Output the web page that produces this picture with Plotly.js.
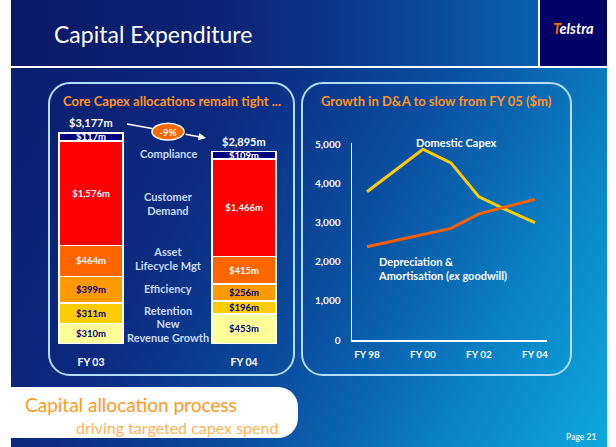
<!DOCTYPE html>
<html><head><meta charset="utf-8">
<script src="https://cdn.plot.ly/plotly-3.0.1.min.js"></script>
<style>
html,body{margin:0;padding:0;background:#fff;}
#wrap{position:relative;width:616px;height:447px;overflow:hidden;background:#fff;}
#hdr{position:absolute;left:11px;top:0;width:527px;height:66px;background:linear-gradient(90deg,#0c1a66 0%,#0c2275 40%,#0b4a9c 80%,#0a60ae 100%);}
#logo{position:absolute;left:540px;top:0;width:67px;height:66px;background:#000066;}
#body{position:absolute;left:11px;top:68px;width:596px;height:379px;background:linear-gradient(118deg,#0b1d6e 0%,#0b2a80 30%,#0a50a2 56%,#0a80c4 78%,#10a8e0 100%);}
.panel{position:absolute;box-sizing:border-box;border:2px solid #b3def7;border-radius:22px;}
#foot{position:absolute;left:11px;top:387px;width:287px;height:51px;background:#fff;border-radius:0 20px 20px 0;}
#plot{position:absolute;left:0;top:0;width:616px;height:447px;}
</style></head>
<body>
<div id="wrap">
  <div id="hdr"></div>
  <div id="logo"></div>
  <div id="body"></div>
  <div class="panel" style="left:48px;top:82px;width:247px;height:294px;"></div>
  <div class="panel" style="left:301px;top:82px;width:271px;height:294px;"></div>
  <div id="foot"></div>
  <div id="plot"></div>
</div>
<script>
// ---- data: capex allocations ($m) ----
const allocYears = ['FY 03', 'FY 04'];
const newRevenueGrowth = [310, 453];
const retention = [311, 196];
const efficiency = [399, 256];
const assetLifecycle = [464, 415];
const customerDemand = [1576, 1466];
const compliance = [117, 109];
const allocNames = ['New Revenue Growth', 'Retention', 'Efficiency', 'Asset Lifecycle Mgt', 'Customer Demand', 'Compliance'];
const allocLabels = ['New<br>Revenue Growth', 'Retention', 'Efficiency', 'Asset<br>Lifecycle Mgt', 'Customer<br>Demand', 'Compliance'];

// ---- data: D&A vs domestic capex ($m) ----
const lineYears = ['FY 98', 'FY 99', 'FY 00', 'FY 01', 'FY 02', 'FY 03', 'FY 04'];
const lineTickYears = ['FY 98', 'FY 00', 'FY 02', 'FY 04'];
const domesticCapex = [3800, 4340, 4890, 4540, 3670, 3330, 3010];
const depAmort = [2390, 2550, 2700, 2860, 3235, 3420, 3605];
const yTicks = [0, 1000, 2000, 3000, 4000, 5000];

// ---- styles ----
const W = 616, H = 447;
const px = x => x / W, py = y => 1 - y / H;
const FONT = 'Lato, "Open Sans", sans-serif';
const segColors = ['#ffff99', '#ffcc00', '#ff9900', '#ff6600', '#ff0000', '#000080'];
const segText = ['#000080', '#000080', '#000080', '#ffffff', '#ffffff', '#ffffff'];
const labelY = [330, 310, 288, 258, 203, 153];
const ORANGE = '#ff9326';

const series = [newRevenueGrowth, retention, efficiency, assetLifecycle, customerDemand, compliance];
const traces = series.map((vals, i) => ({
  type: 'bar', x: allocYears, y: vals, name: allocNames[i],
  xaxis: 'x', yaxis: 'y', width: 0.418,
  marker: {color: segColors[i], line: {color: '#ffffff', width: 1.5}},
  texttemplate: '$%{y:,}m', textposition: 'inside', insidetextanchor: 'middle',
  constraintext: 'none', textangle: 0,
  textfont: {family: FONT, size: 9.5, color: segText[i], weight: 'bold'},
  hoverinfo: 'skip'
}));

traces.push({
  type: 'scatter', mode: 'lines', x: lineYears, y: domesticCapex, name: 'Domestic Capex',
  xaxis: 'x2', yaxis: 'y2', line: {color: '#ffcc00', width: 3}, hoverinfo: 'skip'
});
traces.push({
  type: 'scatter', mode: 'lines', x: lineYears, y: depAmort, name: 'Depreciation & Amortisation (ex goodwill)',
  xaxis: 'x2', yaxis: 'y2', line: {color: '#ff5f00', width: 3}, hoverinfo: 'skip'
});

const totals = allocYears.map((_, j) => series.reduce((s, a) => s + a[j], 0));
const change = Math.round((totals[1] - totals[0]) / totals[0] * 100);
const fmt = v => '$' + v.toLocaleString('en-US') + 'm';

const annotations = [];
const T = (text, x, y, size, color, opts = {}) => annotations.push(Object.assign({
  text, x: px(x), y: py(y), xref: 'paper', yref: 'paper', showarrow: false,
  xanchor: 'center', yanchor: 'middle',
  font: {family: FONT, size, color, weight: opts.weight || 'normal'}
}, opts.extra || {}));

// header & footer
T('Capital Expenditure', 52, 34, 23, '#ffffff', {extra: {xanchor: 'left'}});
T('<i><span style="color:#ff6a00">T</span>elstra</i>', 573, 29, 14.5, '#ffffff', {weight: 'bold'});
T('Capital allocation process', 23, 404, 19, '#ff9a1f', {extra: {xanchor: 'left'}});
T('driving targeted capex spend', 74, 427, 16, '#ffb35c', {extra: {xanchor: 'left'}});
T('Page 21', 581, 437, 8.5, '#dff0ff', {weight: 'bold'});

// panel titles
T('Core Capex allocations remain tight ...', 172, 101, 13, ORANGE, {weight: 'bold'});
T('Growth in D&A to slow from FY 05 ($m)', 436, 101, 13, ORANGE, {weight: 'bold'});

// category labels between bars
allocLabels.forEach((lab, i) => T(lab, 168, labelY[i], 11, '#c9dcf6', {weight: 'bold'}));

// totals above bars
allocYears.forEach((yr, j) => annotations.push({
  text: fmt(totals[j]), x: yr, y: totals[j], xref: 'x', yref: 'y', showarrow: false,
  yanchor: 'bottom', yshift: 2, font: {family: FONT, size: 11, color: '#ffffff', weight: 'bold'}
}));

// change marker
annotations.push({
  text: '', x: px(206), y: py(138), xref: 'paper', yref: 'paper',
  showarrow: true, ax: -22, ay: -4, arrowhead: 2, arrowsize: 1, arrowwidth: 1.5, arrowcolor: '#ffffff'
});
T(change + '%', 168, 131.5, 10, '#ffffff', {weight: 'bold'});

// line labels
T('Domestic Capex', 456, 142, 11, '#ffffff', {weight: 'bold'});
T('Depreciation &<br>Amortisation (<i>ex</i> goodwill)', 376, 268, 11, '#ffffff', {weight: 'bold', extra: {xanchor: 'left', align: 'left'}});

const shapes = [
  {type: 'line', xref: 'paper', yref: 'paper', x0: px(127), y0: py(124), x1: px(152), y1: py(128.4),
   line: {color: '#ffffff', width: 1.5}},
  {type: 'circle', xref: 'paper', yref: 'paper', x0: px(152), x1: px(184), y0: py(140), y1: py(123.3),
   fillcolor: '#ff6600', line: {color: '#ffffff', width: 1.5}, layer: 'above'}
];

const layout = {
  width: W, height: H, margin: {l: 0, r: 0, t: 0, b: 0},
  paper_bgcolor: 'rgba(0,0,0,0)', plot_bgcolor: 'rgba(0,0,0,0)',
  showlegend: false, barmode: 'stack', font: {family: FONT, color: '#ffffff'},
  xaxis: {domain: [px(48), px(295)], type: 'category', range: [-0.281, 1.333],
    showgrid: false, zeroline: false, showline: false, ticks: '',
    tickfont: {family: FONT, size: 10.5, color: '#ffffff', weight: 'bold'}, ticklabelstandoff: 10},
  yaxis: {domain: [py(344), py(85)], range: [0, 3900], visible: false, fixedrange: true},
  xaxis2: {domain: [px(352), px(547)], type: 'category', range: [-0.536, 6.43], anchor: 'y2',
    tickmode: 'array', tickvals: lineTickYears, ticktext: lineTickYears,
    showgrid: false, zeroline: false, showline: true, linecolor: '#ffffff', linewidth: 1.5, ticks: '',
    tickfont: {family: FONT, size: 10, color: '#ffffff', weight: 'bold'}, ticklabelstandoff: 4},
  yaxis2: {domain: [py(340), py(143)], range: [0, 5050], anchor: 'x2',
    tickmode: 'array', tickvals: yTicks, tickformat: ',',
    showgrid: false, zeroline: false, showline: true, linecolor: '#ffffff', linewidth: 1.5, ticks: '',
    tickfont: {family: FONT, size: 10, color: '#ffffff', weight: 'bold'}, ticklabelstandoff: 8},
  annotations, shapes
};

Plotly.newPlot('plot', traces, layout, {displayModeBar: false, staticPlot: true});
</script>
</body></html>
